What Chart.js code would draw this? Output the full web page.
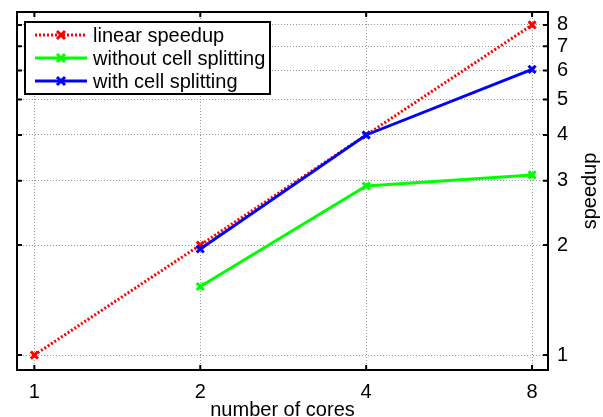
<!DOCTYPE html>
<html>
<head>
<meta charset="utf-8">
<script src="https://cdn.jsdelivr.net/npm/chart.js@4.4.1/dist/chart.umd.min.js"></script>
<style>
  html, body { margin: 0; padding: 0; background: #fff; }
  #wrap { width: 603px; height: 417px; }
</style>
</head>
<body>
<div id="wrap"><canvas id="speedChart"></canvas></div>
<script>
const cores = [1, 2, 4, 8];
const linearSpeedup = [1, 2, 4, 8];
const coresSplit = [2, 4, 8];
const withoutSplitting = [1.54, 2.9, 3.11];
const withSplitting = [1.95, 4.0, 6.05];
const xTicks = [1, 2, 4, 8];
const yTicks = [1, 2, 3, 4, 5, 6, 7, 8];

const FONT = 'Liberation Sans, Arial, sans-serif';

function pts(xs, ys) {
    return xs.map((x, i) => ({ x: x, y: ys[i] }));
}

// box round the plot with inward ticks, like matlab
const frame = {
    id: 'frame',
    afterDatasetsDraw(chart) {
        const { ctx, chartArea: a, scales } = chart;
        ctx.save();
        ctx.strokeStyle = '#000';
        ctx.lineWidth = 2;
        ctx.strokeRect(a.left, a.top, a.right - a.left, a.bottom - a.top);
        ctx.beginPath();
        xTicks.forEach(v => {
            const px = scales.x.getPixelForValue(v);
            ctx.moveTo(px, a.bottom); ctx.lineTo(px, a.bottom - 5);
            ctx.moveTo(px, a.top); ctx.lineTo(px, a.top + 5);
        });
        yTicks.forEach(v => {
            const py = scales.y.getPixelForValue(v);
            ctx.moveTo(a.left, py); ctx.lineTo(a.left + 5, py);
            ctx.moveTo(a.right, py); ctx.lineTo(a.right - 5, py);
        });
        ctx.stroke();

        // y title reads bottom to top on the right side
        ctx.fillStyle = '#000';
        ctx.font = '20px ' + FONT;
        ctx.textAlign = 'center';
        ctx.textBaseline = 'middle';
        ctx.translate(590, (a.top + a.bottom) / 2);
        ctx.rotate(-Math.PI / 2);
        ctx.fillText('speedup', 0, 0);
        ctx.restore();
    }
};

// legend box inside the axes
const boxLegend = {
    id: 'boxLegend',
    afterDraw(chart) {
        const ctx = chart.ctx;
        const x0 = 25, y0 = 22, w = 245, h = 72;
        ctx.save();
        ctx.fillStyle = '#fff';
        ctx.fillRect(x0, y0, w, h);
        ctx.strokeStyle = '#000';
        ctx.lineWidth = 2;
        ctx.strokeRect(x0, y0, w, h);
        chart.data.datasets.forEach((ds, i) => {
            const yy = 35 + i * 23;
            ctx.strokeStyle = ds.borderColor;
            ctx.lineWidth = ds.borderWidth;
            ctx.setLineDash(ds.borderDash || []);
            ctx.beginPath();
            ctx.moveTo(35, yy); ctx.lineTo(87, yy);
            ctx.stroke();
            ctx.setLineDash([]);
            ctx.lineWidth = 3;
            ctx.beginPath();
            ctx.moveTo(57, yy - 4); ctx.lineTo(65, yy + 4);
            ctx.moveTo(57, yy + 4); ctx.lineTo(65, yy - 4);
            ctx.stroke();
            ctx.fillStyle = '#000';
            ctx.font = '20px ' + FONT;
            ctx.textBaseline = 'middle';
            ctx.fillText(ds.label, 93, yy + 1);
        });
        ctx.restore();
    }
};

new Chart(document.getElementById('speedChart'), {
    type: 'line',
    data: {
        datasets: [
            {
                label: 'linear speedup',
                data: pts(cores, linearSpeedup),
                borderColor: '#ff0000',
                backgroundColor: '#ff0000',
                borderWidth: 3,
                borderDash: [2, 2],
                pointStyle: 'crossRot',
                pointRadius: 5,
                pointBorderWidth: 3,
                order: 3
            },
            {
                label: 'without cell splitting',
                data: pts(coresSplit, withoutSplitting),
                borderColor: '#00ff00',
                backgroundColor: '#00ff00',
                borderWidth: 3,
                pointStyle: 'crossRot',
                pointRadius: 5,
                pointBorderWidth: 3,
                order: 2
            },
            {
                label: 'with cell splitting',
                data: pts(coresSplit, withSplitting),
                borderColor: '#0000ff',
                backgroundColor: '#0000ff',
                borderWidth: 3,
                pointStyle: 'crossRot',
                pointRadius: 5,
                pointBorderWidth: 3,
                order: 1
            }
        ]
    },
    options: {
        responsive: true,
        maintainAspectRatio: false,
        animation: false,
        layout: { padding: { left: 17, top: 12, right: 0, bottom: 0 } },
        plugins: {
            legend: { display: false },
            tooltip: { enabled: false }
        },
        scales: {
            x: {
                type: 'logarithmic',
                min: 0.93,
                max: 8.55,
                afterBuildTicks: s => { s.ticks = xTicks.map(v => ({ value: v })); },
                afterFit: s => { s.height = 47; s.paddingLeft = 0; s.paddingRight = 0; },
                ticks: {
                    color: '#000',
                    font: { family: FONT, size: 20 },
                    padding: 10,
                    maxRotation: 0,
                    callback: v => String(v)
                },
                grid: {
                    color: '#999',
                    drawTicks: false
                },
                border: { display: false, dash: [1, 2] },
                title: {
                    display: true,
                    text: 'number of cores',
                    color: '#000',
                    font: { family: FONT, size: 20 },
                    padding: { top: 0, bottom: -5 }
                }
            },
            y: {
                type: 'logarithmic',
                position: 'right',
                min: 0.91,
                max: 8.68,
                afterBuildTicks: s => { s.ticks = yTicks.map(v => ({ value: v })); },
                afterFit: s => { s.width = 55; s.paddingTop = 0; s.paddingBottom = 0; },
                ticks: {
                    color: '#000',
                    font: { family: FONT, size: 20 },
                    padding: 9,
                    callback: v => String(v)
                },
                grid: {
                    color: '#999',
                    drawTicks: false
                },
                border: { display: false, dash: [1, 2] },
                title: { display: false }
            }
        }
    },
    plugins: [frame, boxLegend]
});
</script>
</body>
</html>
